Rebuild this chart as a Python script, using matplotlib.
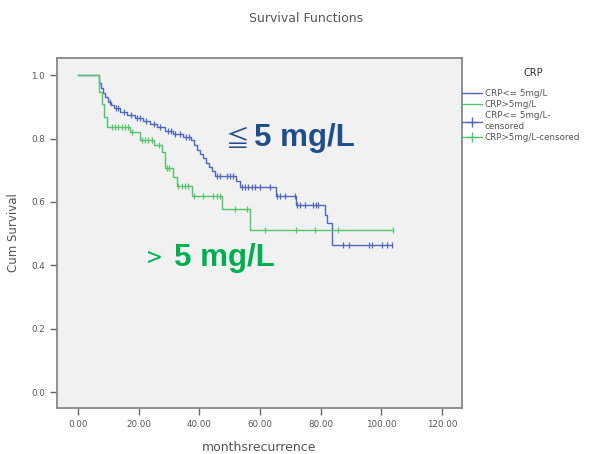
import numpy as np
import matplotlib
matplotlib.use("Agg")
import matplotlib.pyplot as plt
from matplotlib.lines import Line2D

# Kaplan-Meier curves: step times / survival after the step
low_t = [0, 6.9, 7.6, 8.2, 8.9, 9.9, 10.9, 11.9, 13.8, 16.2, 18.8, 21.4, 23.7, 26.0,
         28.7, 31.3, 34.6, 37.3, 38.2, 39.2, 40.2, 41.2, 42.2, 43.2, 44.2, 45.2,
         52.0, 53.4, 65.3, 71.9, 81.4, 82.1, 83.7]
low_s = [1.0, 0.975, 0.96, 0.945, 0.93, 0.915, 0.905, 0.895, 0.885, 0.875, 0.865,
         0.855, 0.845, 0.835, 0.825, 0.815, 0.805, 0.795, 0.78, 0.765, 0.752, 0.738,
         0.724, 0.71, 0.697, 0.683, 0.665, 0.647, 0.618, 0.59, 0.56, 0.533, 0.464]
low_end = 103.5
low_cens = [10.5, 12.5, 13.2, 15, 17.3, 19.5, 20.5, 22.5, 25, 27, 29.5, 30.5, 32,
            33.5, 35.5, 36.5, 45.8, 46.8, 49, 50.1, 51.1, 54, 55, 56, 57.4, 58.4,
            60, 63.3, 65.6, 66.6, 68.2, 71.5, 72.2, 73.2, 74.8, 77.5, 78.5, 79.1,
            87.4, 89.4, 96, 97, 100.3, 101.9, 103.5]

high_t = [0, 7.0, 8.0, 8.6, 9.4, 17.2, 20.4, 25.0, 27.5, 28.7, 31.3, 32.6, 37.6,
          47.5, 56.7]
high_s = [1.0, 0.946, 0.91, 0.868, 0.835, 0.82, 0.795, 0.78, 0.757, 0.707, 0.68,
          0.65, 0.62, 0.577, 0.511]
high_end = 104
high_cens = [11.2, 12.2, 13.2, 14.5, 15.5, 16.5, 17.6, 21, 22, 23, 24.4, 26.5,
             29.2, 30, 33, 34.3, 35.3, 36.3, 38.2, 41.2, 44.5, 45.8, 46.8, 51.8,
             55.7, 61.7, 72, 78, 85.6, 104]

xticks = [0, 20, 40, 60, 80, 100, 120]
yticks = [0.0, 0.2, 0.4, 0.6, 0.8, 1.0]
legend_labels = ["CRP<= 5mg/L", "CRP>5mg/L", "CRP<= 5mg/L-\ncensored", "CRP>5mg/L-censored"]

BLUE = "#4f68bd"
GREEN = "#52c46a"
GREY = "#555555"


def surv_at(ts, ss, t):
    i = np.searchsorted(ts, t, side="right") - 1
    return np.array(ss)[i]


fig = plt.figure(figsize=(6.11, 4.54), dpi=100)
ax = fig.add_axes([57 / 611, 1 - 408 / 454, (462 - 57) / 611, (408 - 58) / 454])
ax.set_facecolor("#f1f1f1")

for ts, ss, end, cens, col in [(low_t, low_s, low_end, low_cens, BLUE),
                               (high_t, high_s, high_end, high_cens, GREEN)]:
    ax.step(ts + [end], ss + [ss[-1]], where="post", color=col, lw=1.0)
    ax.plot(cens, surv_at(ts, ss, cens), ls="none", marker="|", ms=5,
            mew=0.9, color=col)

ax.set_xlim(-7, 126.6)
ax.set_ylim(-0.05, 1.054)
ax.set_xticks(xticks)
ax.set_xticklabels([f"{v:.2f}" for v in xticks])
ax.set_yticks(yticks)
ax.set_yticklabels([f"{v:.1f}" for v in yticks])
ax.tick_params(direction="out", length=5, width=1, color="#666666",
               labelsize=6.3, labelcolor=GREY)
for sp in ax.spines.values():
    sp.set_color("#888888")
    sp.set_linewidth(1.3)

ax.set_ylabel("Cum Survival", fontsize=8.5, color=GREY, labelpad=8)
ax.set_xlabel("monthsrecurrence", fontsize=9, color=GREY, labelpad=9)
fig.text(306 / 611, 1 - 18 / 454, "Survival Functions", ha="center", va="center",
         fontsize=9, color="#555555")

# legend, with its title placed on its own
fig.text(533 / 611, 1 - 73 / 454, "CRP", ha="center", va="center",
         fontsize=7, color="#333333")
handles = [Line2D([], [], color=BLUE, lw=1),
           Line2D([], [], color=GREEN, lw=1),
           Line2D([], [], color=BLUE, lw=1, marker="+", ms=7),
           Line2D([], [], color=GREEN, lw=1, marker="+", ms=7)]
ax.legend(handles, legend_labels, loc="upper left",
          bbox_to_anchor=(1.0, 1 - 31 / 350), frameon=False, fontsize=6.3,
          handlelength=2.3, handletextpad=0.3,
          borderaxespad=0.0, borderpad=0.0, labelspacing=0.25,
          labelcolor=GREY)

# annotations on the chart
fam = ["Liberation Sans", "Noto Sans CJK JP", "DejaVu Sans"]
fig.text(226 / 611, 1 - 140 / 454, "≦", fontsize=17, color="#1f4e8c",
         family=["Noto Sans CJK JP", "DejaVu Sans"], ha="left", va="center")
fig.text(254 / 611, 1 - 138 / 454, "5 mg/L", fontsize=22.5, color="#1f4e8c",
         family=fam, weight="bold", ha="left", va="center")
fig.text(147 / 611, 1 - 259 / 454, ">", fontsize=19, color="#00b050",
         family=["Noto Sans CJK JP", "DejaVu Sans"], ha="left", va="center")
fig.text(174 / 611, 1 - 258 / 454, "5 mg/L", fontsize=22.5, color="#00b050",
         family=fam, weight="bold", ha="left", va="center")

fig.savefig("out.png", dpi=100)
